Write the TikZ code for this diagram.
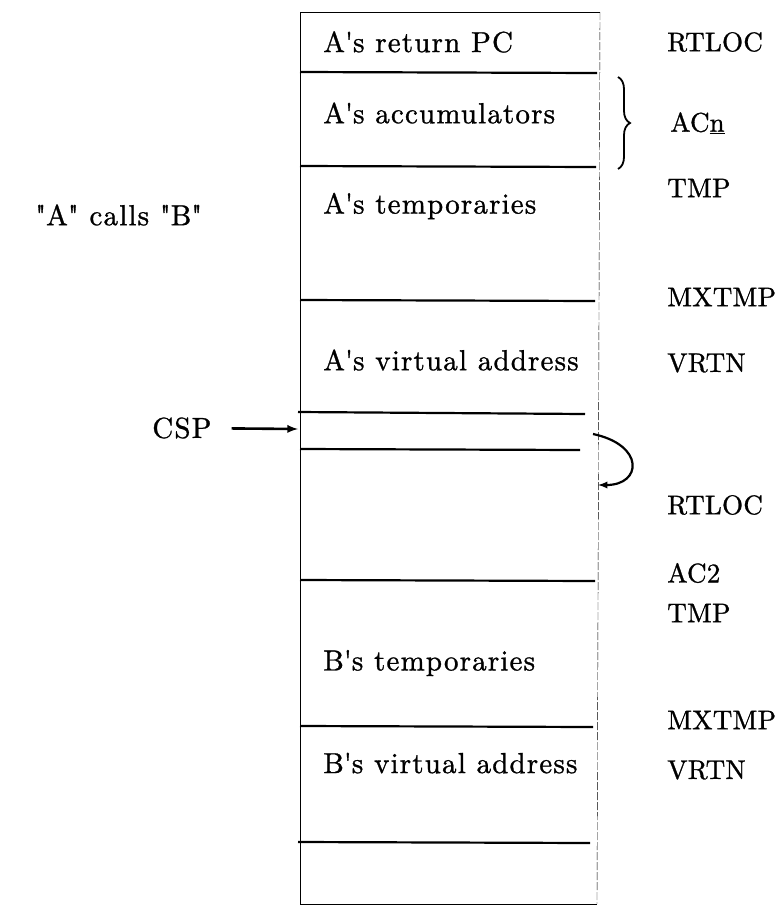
\documentclass[tikz,border=0pt]{standalone}
\usepackage{fontspec}
\usetikzlibrary{positioning,decorations.pathreplacing}
\newfontfamily\slotfont[LetterSpace=4,FakeBold=1]{lmroman10-regular.otf}
\newfontfamily\addrfont[LetterSpace=1,FakeBold=1]{lmroman10-regular.otf}

\begin{document}
\begin{tikzpicture}[-latex, x=1pt, y=-1pt, semithick,
                    slot/.style ={anchor=west, inner sep=0pt, font=\slotfont\fontsize{29}{34}\selectfont},
                    addr/.style ={anchor=west, inner sep=0pt, font=\addrfont\fontsize{27}{32}\selectfont},
                    divider/.style ={-, line width=2.2pt}]
\useasboundingbox (0,0) rectangle (780,906);

% stack frame outline
\draw[-, thin] (300,12) -- (600,12);
\draw[-, thin] (300,12) -- (300,904) -- (597,904);
\draw[-, thin, dash pattern=on 8pt off 2pt] (600,12) -- (597,904);

% dividers
\draw[divider] (300,72) -- (597,73);
\draw[divider] (300,166) -- (596,167);
\draw[divider] (300,300) -- (595,301);
\draw[divider] (298,412) -- (585,414);
\draw[divider] (300,449) -- (580,450);
\draw[divider] (300,580) -- (595,581);
\draw[divider] (300,726) -- (593,727);
\draw[divider] (298,842) -- (590,843);

% slot nodes
\node[slot] (aret) at (323,42) {A\textquotesingle s return PC};
\node[slot] (aacc) at (323,113) {A\textquotesingle s accumulators};
\node[slot] (atmp) at (323,206) {A\textquotesingle s temporaries};
\node[slot] (avrt) at (323,360) {A\textquotesingle s virtual address};
\node[slot] (btmp) at (323,663) {B\textquotesingle s temporaries};
\node[slot] (bvrt) at (323,763) {B\textquotesingle s virtual address};

% address nodes
\node[addr] (rtloca) at (667,42) {RTLOC};
\node[addr] (acn) at (670,123) {AC\underline{n}};
\node[addr] (tmpa) at (667,188) {TMP};
\node[addr] (mxtmpa) at (667,297) {MXTMP};
\node[addr] (vrtna) at (667,363) {VRTN};
\node[addr] (rtlocb) at (667,505) {RTLOC};
\node[addr] (ac2) at (667,573) {AC2};
\node[addr] (tmpb) at (667,613) {TMP};
\node[addr] (mxtmpb) at (667,720) {MXTMP};
\node[addr] (vrtnb) at (667,770) {VRTN};

% left side
\node[slot] (calls) at (35,215) {\textquotedbl A\textquotedbl{} calls \textquotedbl B\textquotedbl};
\node[slot] (csp) at (152,428) {CSP};
\coordinate (cspin) at (298,429);

% edges
\path (csp) edge [line width=2.6pt, shorten <=20pt] (cspin);
\coordinate (jmpa) at (593,434);
\coordinate (jmpb) at (598,485);
\draw[line width=2.2pt] (jmpa) .. controls (645,445) and (642,485) .. (jmpb);
\draw[-, line width=1.8pt, decorate, decoration={brace, amplitude=12pt}] (618,77) -- (618,169);

\end{tikzpicture}
\end{document}
